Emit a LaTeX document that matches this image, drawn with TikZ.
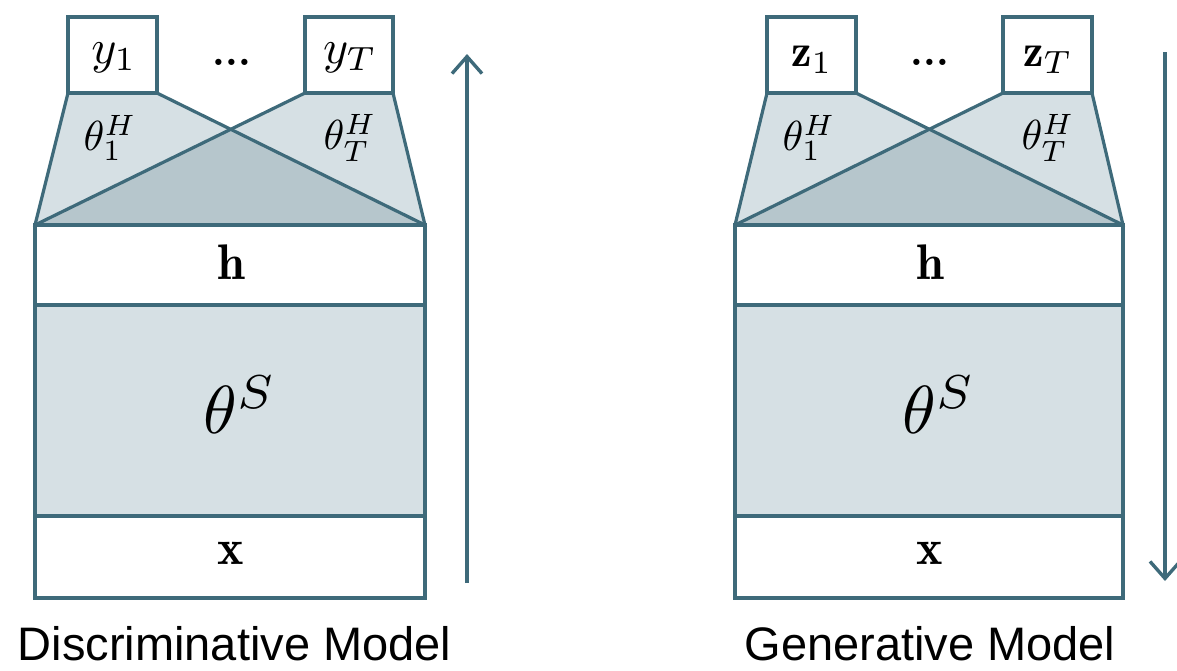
\documentclass[tikz,border=0pt]{standalone}
\usepackage{amsmath}
\usepackage{graphicx}
\usepackage{fontspec}
\newfontfamily\labelfont{Liberation Sans}
\usetikzlibrary{arrows.meta}
\definecolor{edge}{HTML}{3E6A7A}
\definecolor{lightfill}{HTML}{D6E0E4}
\definecolor{darkfill}{HTML}{B6C6CC}
\newcommand{\mathsz}[2]{\scalebox{#1}{$#2$}}
\begin{document}
\begin{tikzpicture}[x=1pt,y=-1pt,
  line/.style={draw=edge,line width=3.2pt,line join=miter},
  outbox/.style={line,fill=white},
  arr/.style={draw=edge,line width=3.4pt,-{Straight Barb[length=17pt,width=30pt,line width=3.4pt]}},
  txt/.style={inner sep=0pt,anchor=center,font=\fontsize{10}{12}\selectfont},
  captxt/.style={inner sep=0pt,anchor=base,font=\labelfont\fontsize{47}{50}\selectfont}]
\useasboundingbox (0,0) rectangle (1177,670);
% ---------- left: discriminative ----------
\begin{scope}
\coordinate (Ltl) at (68,93); \coordinate (Ltr) at (393,93);
\coordinate (Lbl) at (35,225); \coordinate (Lbr) at (425,225);
\coordinate (Lil) at (157,93); \coordinate (Lir) at (305,93);
\coordinate (Lx) at (230.7,129.3);
\path[fill=lightfill] (Ltl) -- (Lil) -- (Lx) -- (Lir) -- (Ltr) -- (Lbr) -- (Lbl) -- cycle;
\path[fill=darkfill] (Lx) -- (Lbr) -- (Lbl) -- cycle;
\draw[line] (Lil) -- (Lbr);
\draw[line] (Lir) -- (Lbl);
\draw[line] (Ltl) -- (Lbl) -- (Lbr) -- (Ltr);
\draw[outbox] (68,17) rectangle (157,93);
\draw[outbox] (305,17) rectangle (393,93);
\draw[outbox] (35,225) rectangle (425,305);
\draw[line,fill=lightfill] (35,305) rectangle (425,516);
\draw[outbox] (35,516) rectangle (425,598);
\node[txt] (y1) at (114,58) {\mathsz{4.8}{y_1}};
\node[txt] (ldots) at (232,62) {\mathsz{4}{\textbf{...}}};
\node[txt] (yT) at (350,58) {\mathsz{4.8}{y_T}};
\node[txt] (th1) at (110,138) {\mathsz{4.2}{\theta_1^H}};
\node[txt] (thT) at (350,138) {\mathsz{4.2}{\theta_T^H}};
\node[txt] (hL) at (231,262) {\mathsz{5}{\mathbf{h}}};
\node[txt] (thSL) at (240,405) {\mathsz{6.8}{\theta^S}};
\node[txt] (xL) at (231,553) {\mathsz{5}{\mathbf{x}}};
\coordinate (La0) at (467,583); \coordinate (La1) at (467,54);
\draw[arr] (La0) -- (La1);
\node[captxt] (capL) at (234.5,660) {Discriminative Model};
\end{scope}
% ---------- right: generative ----------
\begin{scope}[xshift=700pt]
\coordinate (Rtl) at (67,93); \coordinate (Rtr) at (392,93);
\coordinate (Rbl) at (35,225); \coordinate (Rbr) at (423,225);
\coordinate (Ril) at (156,93); \coordinate (Rir) at (303,93);
\coordinate (Rx) at (229.6,129.3);
\path[fill=lightfill] (Rtl) -- (Ril) -- (Rx) -- (Rir) -- (Rtr) -- (Rbr) -- (Rbl) -- cycle;
\path[fill=darkfill] (Rx) -- (Rbr) -- (Rbl) -- cycle;
\draw[line] (Ril) -- (Rbr);
\draw[line] (Rir) -- (Rbl);
\draw[line] (Rtl) -- (Rbl) -- (Rbr) -- (Rtr);
\draw[outbox] (67,17) rectangle (156,93);
\draw[outbox] (303,17) rectangle (392,93);
\draw[outbox] (35,225) rectangle (423,305);
\draw[line,fill=lightfill] (35,305) rectangle (423,516);
\draw[outbox] (35,516) rectangle (423,598);
\node[txt] (z1) at (112,60) {\mathsz{4.6}{\mathbf{z}_1}};
\node[txt] (rdots) at (230,62) {\mathsz{4}{\textbf{...}}};
\node[txt] (zT) at (348,60) {\mathsz{4.6}{\mathbf{z}_T}};
\node[txt] (th1R) at (109,138) {\mathsz{4.2}{\theta_1^H}};
\node[txt] (thTR) at (348,138) {\mathsz{4.2}{\theta_T^H}};
\node[txt] (hR) at (230,262) {\mathsz{5}{\mathbf{h}}};
\node[txt] (thSR) at (239,405) {\mathsz{6.8}{\theta^S}};
\node[txt] (xR) at (230,553) {\mathsz{5}{\mathbf{x}}};
\coordinate (Ra0) at (465,52); \coordinate (Ra1) at (465,581);
\draw[arr] (Ra0) -- (Ra1);
\node[captxt] (capR) at (230,660) {Generative Model};
\end{scope}
\end{tikzpicture}
\end{document}
